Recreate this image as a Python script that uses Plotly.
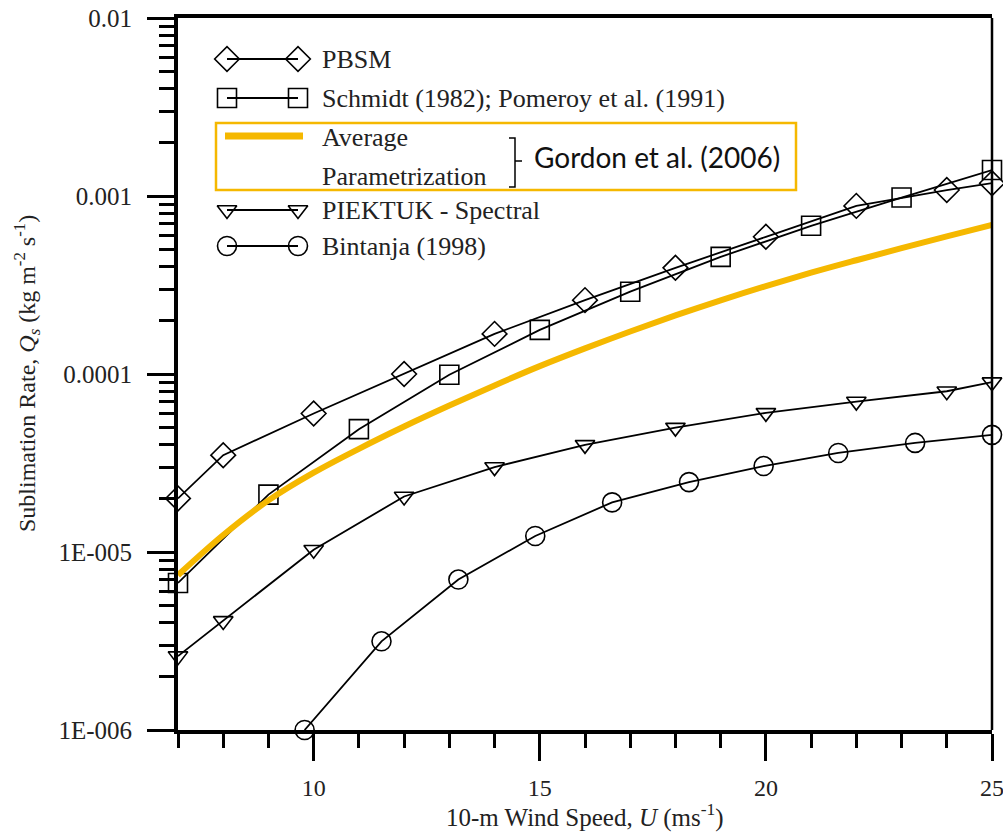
import plotly.graph_objects as go

# ---- data -------------------------------------------------------------
pbsm_u = [7, 8, 10, 12, 14, 16, 18, 20, 22, 24, 25]
pbsm_q = [2.0e-5, 3.5e-5, 6.0e-5, 1.0e-4, 1.68e-4, 2.6e-4, 3.95e-4, 5.9e-4, 8.8e-4, 1.08e-3, 1.18e-3]

schmidt_u = [7, 9, 11, 13, 15, 17, 19, 21, 23, 25]
schmidt_q = [6.7e-6, 2.1e-5, 4.9e-5, 9.9e-5, 1.77e-4, 2.9e-4, 4.55e-4, 6.8e-4, 9.8e-4, 1.4e-3]

avg_u = [7, 8, 9, 10, 11, 12, 13, 14, 15, 16, 17, 18, 19, 20, 21, 22, 23, 24, 25]
avg_q = [7.41e-6, 1.245e-5, 1.95e-5, 2.79e-5, 3.80e-5, 5.07e-5, 6.65e-5, 8.63e-5, 1.107e-4,
         1.393e-4, 1.734e-4, 2.133e-4, 2.594e-4, 3.119e-4, 3.707e-4, 4.355e-4, 5.093e-4,
         5.93e-4, 6.87e-4]

piektuk_u = [7, 8, 10, 12, 14, 16, 18, 20, 22, 24, 25]
piektuk_q = [2.6e-6, 4.1e-6, 1.03e-5, 2.05e-5, 3.0e-5, 4.0e-5, 5.0e-5, 6.05e-5, 7.0e-5, 8.0e-5, 9.0e-5]

bintanja_u = [9.8, 11.5, 13.2, 14.9, 16.6, 18.3, 19.95, 21.6, 23.3, 25]
bintanja_q = [1.0e-6, 3.15e-6, 7.0e-6, 1.23e-5, 1.9e-5, 2.47e-5, 3.04e-5, 3.6e-5, 4.1e-5, 4.55e-5]

x_ticks = [10, 15, 20, 25]
y_ticks = [1e-6, 1e-5, 1e-4, 1e-3, 1e-2]
y_tick_text = ["1E-006", "1E-005", "0.0001", "0.001", "0.01"]

# ---- style ------------------------------------------------------------
W, H = 1003, 834
L, R, T, B = 178, 11, 18, 104
SERIF = "Liberation Serif, Times New Roman, serif"
INK = "#222222"
ORANGE = "#F5B800"

fig = go.Figure()

def series(u, q, symbol, size):
    fig.add_trace(go.Scatter(
        x=u, y=q, mode="lines+markers", cliponaxis=False,
        line=dict(color="black", width=1.8),
        marker=dict(symbol=symbol, size=size, color="black",
                    line=dict(color="black", width=1.6)),
        showlegend=False))

series(pbsm_u, pbsm_q, "diamond-open", 19)
series(schmidt_u, schmidt_q, "square-open", 19)
series(piektuk_u, piektuk_q, "triangle-down-open", 17)
series(bintanja_u, bintanja_q, "circle-open", 19)

fig.add_trace(go.Scatter(
    x=avg_u, y=avg_q, mode="lines", line=dict(color=ORANGE, width=6, shape="spline"),
    showlegend=False))

# minor tick positions on the log axis (2..9 in every decade)
minor_y = [m * 10.0 ** e for e in range(-6, -2) for m in range(2, 10)]

fig.update_layout(
    width=W, height=H,
    margin=dict(l=L, r=R, t=T, b=B, pad=0, autoexpand=False),
    paper_bgcolor="white", plot_bgcolor="white",
    showlegend=False,
    xaxis=dict(
        range=[7, 25], showgrid=False, zeroline=False, automargin=False,
        showline=True, linecolor="black", linewidth=4, mirror=True,
        tickmode="array", tickvals=x_ticks, ticks="outside",
        ticklen=27, tickwidth=3, tickcolor="black",
        ticklabelstandoff=6, ticklabeloverflow="allow",
        tickfont=dict(family=SERIF, size=24, color=INK),
        minor=dict(ticks="outside", ticklen=14, tickwidth=3, tickcolor="black",
                   tick0=7, dtick=1, showgrid=False),
    ),
    yaxis=dict(
        type="log", range=[-6, -2], showgrid=False, zeroline=False, automargin=False,
        showline=True, linecolor="black", linewidth=4, mirror=False,
        tickmode="array", tickvals=y_ticks, ticktext=y_tick_text,
        ticks="outside", ticklen=27, tickwidth=3, tickcolor="black",
        ticklabelstandoff=10, ticklabeloverflow="allow",
        tickfont=dict(family=SERIF, size=25, color=INK),
        minor=dict(ticks="outside", ticklen=15, tickwidth=3, tickcolor="black",
                   tickmode="array", tickvals=minor_y, showgrid=False),
    ),
    # pixel-space overlay used for the key box
    xaxis2=dict(overlaying="x", range=[L, W - R], visible=False, fixedrange=True,
                automargin=False),
    yaxis2=dict(overlaying="y", range=[H - B, T], visible=False, fixedrange=True,
                automargin=False),
)

# right-hand frame line (thinner than the left axis)
fig.add_shape(type="line", xref="paper", yref="paper", x0=1, x1=1, y0=0, y1=1,
              line=dict(color="black", width=2.5))

# ---- key ------------------------------------------------------------
key_x = [227, 298]
key_rows = [
    ("diamond-open", 19, 59, "PBSM"),
    ("square-open", 19, 98, "Schmidt (1982); Pomeroy et al. (1991)"),
    ("triangle-down-open", 17, 210, "PIEKTUK - Spectral"),
    ("circle-open", 19, 246, "Bintanja (1998)"),
]
KEY_FONT = dict(family=SERIF, size=26, color=INK)
for sym, sz, ky, label in key_rows:
    fig.add_trace(go.Scatter(
        x=key_x, y=[ky, ky], xaxis="x2", yaxis="y2", mode="lines+markers",
        cliponaxis=False, showlegend=False, hoverinfo="skip",
        line=dict(color="black", width=2),
        marker=dict(symbol=sym, size=sz, color="black", line=dict(color="black", width=1.6))))
    fig.add_annotation(x=320, y=ky, xref="x2", yref="y2", text=label, showarrow=False,
                       xanchor="left", yanchor="middle", font=KEY_FONT)

# Gordon et al. box
fig.add_shape(type="rect", xref="x2", yref="y2", x0=216, x1=796, y0=123, y1=190,
              line=dict(color=ORANGE, width=2.5), fillcolor="rgba(0,0,0,0)")
fig.add_shape(type="line", xref="x2", yref="y2", x0=225, x1=303, y0=136, y1=136,
              line=dict(color=ORANGE, width=7))
fig.add_annotation(x=320, y=137, xref="x2", yref="y2", text="Average", showarrow=False,
                   xanchor="left", yanchor="middle", font=KEY_FONT)
fig.add_annotation(x=320, y=176, xref="x2", yref="y2", text="Parametrization", showarrow=False,
                   xanchor="left", yanchor="middle", font=KEY_FONT)
fig.add_shape(type="path", xref="x2", yref="y2",
              path="M 509 138 L 515 138 L 515 187 L 509 187 M 515 161 L 522 161",
              line=dict(color="black", width=1.5))
fig.add_annotation(x=532, y=157, xref="x2", yref="y2", text="Gordon et al. (2006)",
                   showarrow=False, xanchor="left", yanchor="middle",
                   font=dict(family="Lato, Open Sans, sans-serif", size=28, color="#111"))

# ---- axis titles ------------------------------------------------------
fig.add_annotation(xref="paper", yref="paper", x=0.5, y=-(815 - (H - B)) / (H - B - T),
                   text="10-m Wind Speed, <i>U</i> (ms<sup>-1</sup>)", showarrow=False,
                   xanchor="center", yanchor="middle",
                   font=dict(family=SERIF, size=25, color=INK))
fig.add_annotation(xref="paper", yref="paper", x=-(L - 27) / (W - L - R), y=0.5,
                   text="Sublimation Rate, <i>Q</i><sub><i>s</i></sub> (kg m<sup>-2</sup> s<sup>-1</sup>)",
                   showarrow=False, textangle=-90, xanchor="center", yanchor="middle",
                   font=dict(family=SERIF, size=24, color=INK))

fig.write_html("out.html")
